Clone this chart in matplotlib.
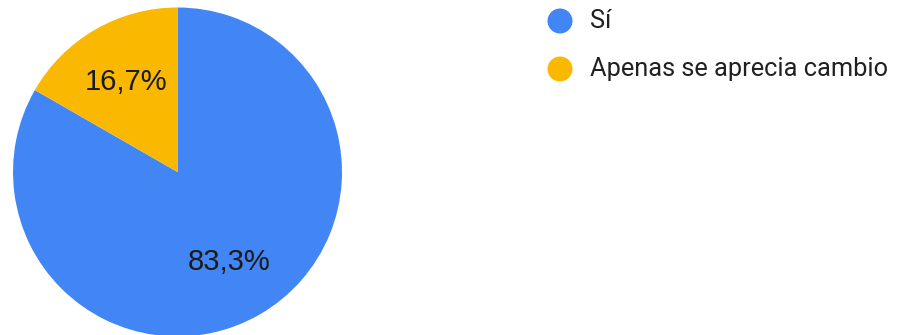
import matplotlib.pyplot as plt
from matplotlib.patches import Circle

# Google Forms style pie: answers to a yes/no-ish question
labels = ['Sí', 'Apenas se aprecia cambio']
values = [83.3, 16.7]
colors = ['#4285F4', '#FAB900']

fig = plt.figure(figsize=(8.98, 3.35), dpi=100)
ax = fig.add_axes([0, 0, 1, 1])

wedges, texts, autotexts = ax.pie(
    values, colors=colors, startangle=90, counterclock=False,
    center=(177.5, 163), radius=164.5, frame=True,
    autopct=lambda p: f'{p:.1f}%'.replace('.', ','), pctdistance=0.63,
    wedgeprops=dict(linewidth=0),
    textprops=dict(fontsize=21, color='#1a1a1a', family='Liberation Sans'))
ax.set_xlim(0, 898)
ax.set_ylim(0, 335)
ax.set_aspect('equal')
ax.axis('off')

# legend drawn by hand, one dot + label per slice
for i, (lab, col) in enumerate(zip(labels, colors)):
    y = 335 - (21 + i * 48)
    ax.add_patch(Circle((560, y), 12.5, color=col, lw=0))
    ax.text(590, y, lab, fontsize=18.3, family='Roboto', color='#212121',
            va='center', ha='left')

plt.savefig('out.png', dpi=100, facecolor='white')
